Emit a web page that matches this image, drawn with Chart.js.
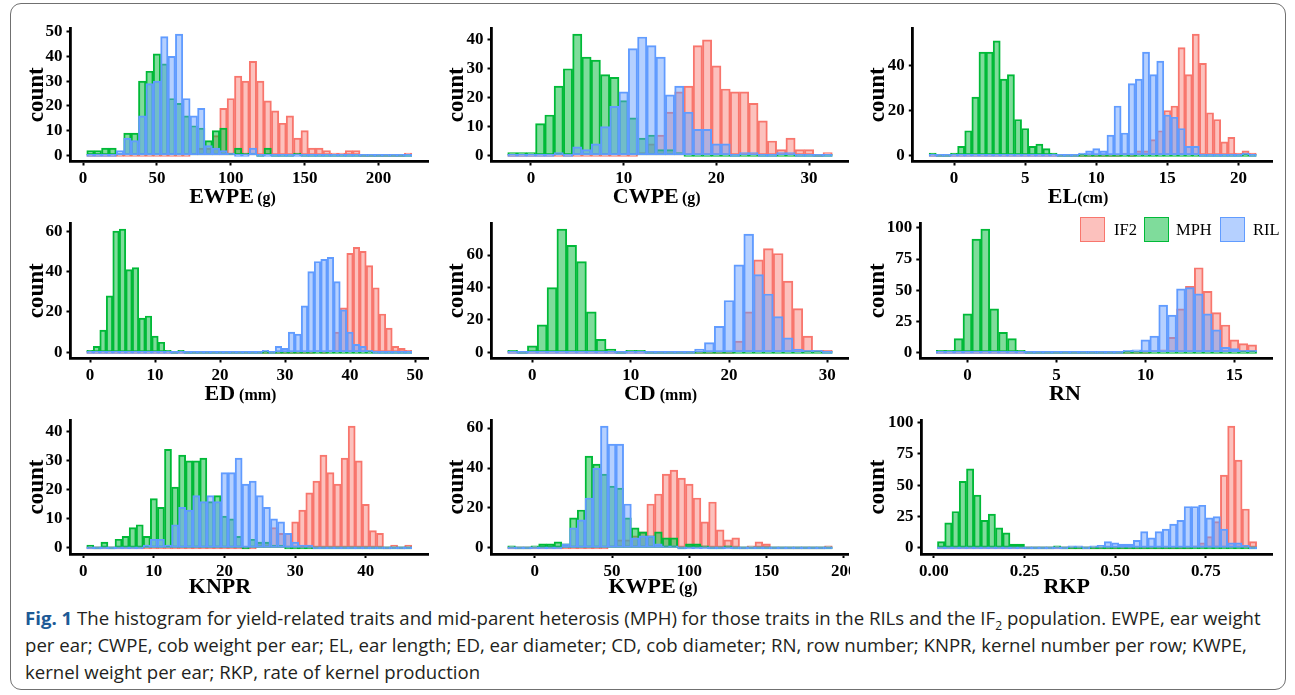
<!DOCTYPE html>
<html>
<head>
<meta charset="utf-8">
<title>Fig. 1</title>
<script src="https://cdn.jsdelivr.net/npm/chart.js@4.4.1/dist/chart.umd.min.js"></script>
<style>
    html, body { margin: 0; padding: 0; background: #fff; }
    #fig { position: relative; width: 1295px; height: 695px; overflow: hidden; }
    #fig canvas { position: absolute; }
    #frame { position: absolute; left: 10px; top: 3px; width: 1276px; height: 687px; box-sizing: border-box;
             border: 1.5px solid #707070; border-radius: 11px; }
    .key { position: absolute; top: 217px; width: 25px; height: 25px; box-sizing: border-box; border: 1.6px solid; }
    .keytext { position: absolute; top: 218px; font-family: "Liberation Serif", serif; font-size: 16.5px; line-height: 24px; color: #000; }
    #caption { position: absolute; left: 25px; top: 604px; font-family: "Open Sans", sans-serif;
               font-size: 18px; line-height: 27px; color: #231f20; white-space: nowrap; }
    #caption b { color: #1d5a96; }
    #caption sub { font-size: 65%; line-height: 0; }
</style>
</head>
<body>
<div id="fig">
    <div id="frame"></div>
    <div id="caption"><span id="capLine1"><b>Fig. 1</b> The histogram for yield-related traits and mid-parent heterosis (MPH) for those traits in the RILs and the IF<sub>2</sub> population. EWPE, ear weight</span><br>per ear; CWPE, cob weight per ear; EL, ear length; ED, ear diameter; CD, cob diameter; RN, row number; KNPR, kernel number per row; KWPE,<br>kernel weight per ear; RKP, rate of kernel production</div>
</div>
<script>
"use strict";

// ------------------------------------------------------- //
// Data: [first bin centre, bin width] and counts per bin
// ------------------------------------------------------ //
var groups = ["IF2", "MPH", "RIL"];

var ewpeBins = [5, 5];
var ewpeIF2 = [0,0,0,0,0,0,0,0,0,0, 0,0,0,0,1,3,3,8,19,23, 32,30,38,30,22,18,13,16,7,10, 3,3,2,1,1,2,2,0,0,0, 0,0,0,1];
var ewpeMPH = [2,2,3,3,1,9,9,30,34,41, 37,23,21,16,12,11,6,10,11,1, 3,1,1,0,3,0,0,0,1,0, 0,0,0,0,0,0,0,0,0,0, 0,0,0,0];
var ewpeRIL = [0,0,0,0,2,7,6,16,29,30, 48,40,49,23,16,19,4,3,2,1, 0,0,3,0,0,0,0,0,0,0, 0,0,0,0,0,0,0,0,0,0, 0,0,0,0];
var ewpeXTicks = ["0", "50", "100", "150", "200"];
var ewpeYTicks = [0, 10, 20, 30, 40, 50];
var ewpeTitle = ["EWPE", "\u2009(g)"];

var cwpeBins = [-2, 1];
var cwpeIF2 = [0,0,0,0,0,0,0,0,0,0, 0,0,0,0,1,4,7,15,22,24, 38,40,31,23,22,22,18,12,5,2, 6,2,2,0,1];
var cwpeMPH = [1,1,1,11,14,24,30,42,34,33, 28,27,19,13,6,7,2,2,1,0, 0,0,0,0,0,0,0,0,0,0, 0,0,0,0,0];
var cwpeRIL = [0,0,0,0,0,1,0,3,2,4, 10,17,22,37,41,38,34,21,24,15, 9,9,4,4,0,1,1,0,0,1, 1,0,0,0,0];
var cwpeXTicks = ["0", "10", "20", "30"];
var cwpeYTicks = [0, 10, 20, 30, 40];
var cwpeTitle = ["CWPE", "\u2009(g)"];

var elBins = [-1.5, 0.5];
var elIF2 = [0,0,0,0,0,0,0,0,0,0, 0,0,0,0,0,0,0,0,0,0, 0,0,0,0,0,0,0,1,0,2, 2,7,11,20,22,48,36,54,41,19, 16,6,8,1,2,1];
var elMPH = [1,0,0,1,4,11,26,46,46,51, 34,36,16,12,4,5,3,1,0,0, 0,0,0,0,0,0,0,0,0,0, 0,0,0,0,0,0,0,0,0,0, 0,0,0,0,0,0];
var elRIL = [0,0,0,0,0,0,0,0,0,0, 0,0,0,0,0,0,0,0,0,0, 0,1,2,3,2,9,22,10,32,34, 46,36,42,18,17,12,4,4,0,0, 0,0,0,0,1,0];
var elXTicks = ["0", "5", "10", "15", "20"];
var elYTicks = [0, 20, 40];
var elTitle = ["EL", "(cm)"];

var edBins = [0, 1];
var edIF2 = [0,0,0,0,0,0,0,0,0,0, 0,0,0,0,0,0,0,0,0,0, 0,0,0,0,0,0,0,0,0,0, 0,0,0,0,0,1,0,1,10,22, 49,52,50,43,32,19,12,3,2,1];
var edMPH = [1,3,11,28,60,61,41,42,17,18, 8,5,1,0,1,0,0,0,0,0, 0,0,0,0,0,0,0,0,0,0, 0,0,0,0,0,0,0,0,0,0, 0,0,0,0,0,0,0,0,0,0];
var edRIL = [0,0,0,0,0,0,0,0,0,0, 0,0,0,0,0,0,0,0,0,0, 0,0,0,0,0,0,0,1,0,3, 2,10,9,23,40,45,46,47,35,21, 10,4,3,1,0,0,0,0,0,0];
var edXTicks = ["0", "10", "20", "30", "40", "50"];
var edYTicks = [0, 20, 40, 60];
var edTitle = ["ED", " (mm)"];

var cdBins = [-2, 1];
var cdIF2 = [0,0,0,0,0,0,0,0,0,0, 0,0,0,0,0,0,0,0,0,0, 0,0,0,7,25,57,64,61,44,27, 10,1,1];
var cdMPH = [1,0,4,17,40,76,66,56,25,8, 2,0,1,1,0,0,0,0,0,0, 0,0,0,0,0,0,0,0,0,0, 0,0,0];
var cdRIL = [0,0,0,0,0,0,0,0,0,0, 0,0,0,0,0,0,0,0,0,2, 6,16,32,54,73,48,36,22,9,2, 1,1,0];
var cdXTicks = ["0", "10", "20", "30"];
var cdYTicks = [0, 20, 40, 60];
var cdTitle = ["CD", " (mm)"];

var rnBins = [-1.5, 0.5];
var rnIF2 = [0,0,0,0,0,0,0,0,0,0, 0,0,0,0,0,0,0,0,0,0, 0,0,0,0,1,2,12,35,53,68, 49,32,22,10,7,6];
var rnMPH = [1,1,11,31,91,99,35,16,11,1, 0,0,0,0,0,0,0,0,0,0, 0,0,0,0,0,0,0,0,0,0, 0,0,0,0,0,0];
var rnRIL = [0,0,0,0,0,0,0,0,0,0, 0,0,0,0,0,0,0,0,0,0, 0,1,2,10,13,38,30,51,52,47, 31,18,4,3,1,1];
var rnXTicks = ["0", "5", "10", "15"];
var rnYTicks = [0, 25, 50, 75, 100];
var rnTitle = ["RN", ""];

var knprBins = [1, 1];
var knprIF2 = [0,0,0,0,0,0,0,0,0,0, 0,0,0,0,0,0,0,0,0,0, 0,0,0,0,2,2,7,5,5,9, 13,19,23,32,26,22,31,42,30,15, 6,5,0,1,0,1];
var knprMPH = [1,0,2,0,3,4,7,8,4,17, 14,34,21,32,30,30,31,16,18,11, 10,4,0,3,2,2,1,1,0,0, 0,0,0,0,0,0,0,0,0,0, 0,0,0,0,0,0];
var knprRIL = [0,0,0,0,0,0,0,0,1,3, 3,1,8,14,13,18,16,18,16,26, 26,31,22,23,18,14,10,9,5,2, 1,1,0,0,0,0,0,0,0,0, 0,0,0,0,0,0];
var knprXTicks = ["0", "10", "20", "30", "40"];
var knprYTicks = [0, 10, 20, 30, 40];
var knprTitle = ["KNPR", ""];

var kwpeBins = [-15, 5];
var kwpeIF2 = [0,0,0,0,0,0,0,0,0,0, 0,0,0,1,4,4,6,8,22,27, 37,39,35,32,25,13,23,9,4,5, 0,1,3,2,0,0,0,0,0,0, 0,1];
var kwpeMPH = [1,0,0,1,2,2,3,2,15,19, 46,42,37,31,30,15,10,8,6,8, 5,5,0,2,2,1,0,0,1,0, 0,0,0,0,0,0,0,0,0,0, 0,0];
var kwpeRIL = [0,0,0,0,0,0,0,2,10,14, 25,40,61,52,52,22,5,6,6,2, 1,1,0,0,0,0,0,0,0,0, 0,0,0,0,0,0,0,0,0,0, 0,0];
var kwpeXTicks = ["0", "50", "100", "150", "200"];
var kwpeYTicks = [0, 20, 40, 60];
var kwpeTitle = ["KWPE", "\u2009(g)"];

var rkpBins = [0.02, 0.02];
var rkpIF2 = [0,0,0,0,0,0,0,0,0,0, 0,0,0,0,0,0,0,0,0,0, 0,0,0,0,0,0,0,0,0,0, 0,0,0,0,0,1,4,9,21,58, 97,70,31,5];
var rkpMPH = [5,20,29,53,63,42,22,27,16,12, 3,3,0,0,0,0,1,0,0,0, 0,0,0,0,0,0,0,0,0,0, 0,0,0,0,0,0,0,0,0,0, 0,0,0,0];
var rkpRIL = [0,0,0,0,0,0,0,0,0,0, 0,0,0,0,0,0,0,0,1,1, 0,1,2,5,4,3,3,6,13,8, 13,15,19,22,33,33,34,24,25,15, 4,4,2,0];
var rkpXTicks = ["0.00", "0.25", "0.50", "0.75"];
var rkpYTicks = [0, 25, 50, 75, 100];
var rkpTitle = ["RKP", ""];

// ------------------------------------------------------- //
// Styles
// ------------------------------------------------------ //
var lineColors = { IF2: "#F8766D", MPH: "#00BA38", RIL: "#619CFF" };
var fillColors = { IF2: "rgba(248,118,109,0.45)", MPH: "rgba(0,186,56,0.5)", RIL: "rgba(97,156,255,0.47)" };
var serif = "'Liberation Serif', 'Times New Roman', serif";

// canvas box [left, top, width, height], plot area [left, top, right, bottom]
var panels = [
    { data: [ewpeIF2, ewpeMPH, ewpeRIL], bins: ewpeBins, xTicks: ewpeXTicks, yTicks: ewpeYTicks, title: ewpeTitle,
      box: [18, 14, 414, 196], area: [70.5, 28, 428, 161.5], titleX: 232.5, titleDy: 41, countX: 37.3 },
    { data: [cwpeIF2, cwpeMPH, cwpeRIL], bins: cwpeBins, xTicks: cwpeXTicks, yTicks: cwpeYTicks, title: cwpeTitle,
      box: [440, 14, 410, 196], area: [491.5, 28, 848.5, 161.5], titleX: 656.7, titleDy: 41, countX: 457.3 },
    { data: [elIF2, elMPH, elRIL], bins: elBins, xTicks: elXTicks, yTicks: elYTicks, title: elTitle,
      box: [858, 14, 428, 196], area: [912.8, 28, 1272.6, 161.5], titleX: 1078, titleDy: 41, countX: 878.5 },
    { data: [edIF2, edMPH, edRIL], bins: edBins, xTicks: edXTicks, yTicks: edYTicks, title: edTitle,
      box: [18, 210, 414, 194], area: [70.5, 223, 428, 358.5], titleX: 240.5, titleDy: 41, countX: 37.3 },
    { data: [cdIF2, cdMPH, cdRIL], bins: cdBins, xTicks: cdXTicks, yTicks: cdYTicks, title: cdTitle,
      box: [440, 210, 410, 194], area: [491.5, 223, 848.5, 358.5], titleX: 660.5, titleDy: 41, countX: 457.3 },
    { data: [rnIF2, rnMPH, rnRIL], bins: rnBins, xTicks: rnXTicks, yTicks: rnYTicks, title: rnTitle,
      box: [858, 210, 428, 194], area: [920.3, 223, 1272.6, 358.5], titleX: 1065, titleDy: 41, countX: 878.5 },
    { data: [knprIF2, knprMPH, knprRIL], bins: knprBins, xTicks: knprXTicks, yTicks: knprYTicks, title: knprTitle,
      box: [18, 406, 414, 196], area: [70.5, 420, 428, 554], titleX: 220, titleDy: 39, countX: 37.3 },
    { data: [kwpeIF2, kwpeMPH, kwpeRIL], bins: kwpeBins, xTicks: kwpeXTicks, yTicks: kwpeYTicks, title: kwpeTitle,
      box: [440, 406, 410, 196], area: [491.5, 420, 848.5, 554], titleX: 653, titleDy: 39, countX: 457.3 },
    { data: [rkpIF2, rkpMPH, rkpRIL], bins: rkpBins, xTicks: rkpXTicks, yTicks: rkpYTicks, title: rkpTitle,
      box: [858, 406, 428, 196], area: [921.5, 420, 1272.6, 554], titleX: 1066.7, titleDy: 39, countX: 878.5 }
];

var legendKeyX = [1080, 1144, 1219.5];
var legendTextX = [1114, 1176, 1253];

// ------------------------------------------------------- //
// x axis title with a smaller unit part
// ------------------------------------------------------ //
var unitTitle = {
    id: "unitTitle",
    afterDraw: function (chart, args, opts) {
        var ctx = chart.ctx;
        var y = chart.chartArea.bottom + opts.dy;
        ctx.save();
        ctx.fillStyle = "#000";
        ctx.textAlign = "left";
        ctx.textBaseline = "alphabetic";
        ctx.font = "bold 22px " + serif;
        var w1 = ctx.measureText(opts.name).width;
        ctx.font = "bold 16px " + serif;
        var w2 = opts.unit ? ctx.measureText(opts.unit).width : 0;
        var x = opts.x - (w1 + w2) / 2;
        ctx.font = "bold 22px " + serif;
        ctx.fillText(opts.name, x, y);
        if (opts.unit) {
            ctx.font = "bold 16px " + serif;
            ctx.fillText(opts.unit, x + w1, y);
        }
        ctx.restore();
    }
};

function binCentres(bins, n) {
    var out = [];
    for (var i = 0; i < n; i++) {
        out.push(Math.round((bins[0] + i * bins[1]) * 1e6) / 1e6);
    }
    return out;
}

Chart.defaults.font.family = serif;

var fig = document.getElementById("fig");

panels.forEach(function (p) {
    var canvas = document.createElement("canvas");
    canvas.width = p.box[2];
    canvas.height = p.box[3];
    canvas.style.left = p.box[0] + "px";
    canvas.style.top = p.box[1] + "px";
    fig.appendChild(canvas);

    var centres = binCentres(p.bins, p.data[0].length);
    var w = p.bins[1];
    var lo = centres[0] - w / 2, hi = centres[centres.length - 1] + w / 2;
    var xPad = (hi - lo) * 0.05;
    var xMin = lo - xPad, xMax = hi + xPad;
    var yMaxData = Math.max.apply(null, p.data[0].concat(p.data[1], p.data[2]));
    var yPad = yMaxData * 0.05;
    // one bin in pixels on the x scale
    var binPx = (p.area[2] - p.area[0]) * w / (xMax - xMin);

    var datasets = groups.map(function (g, gi) {
        return {
            label: g,
            data: p.data[gi].map(function (v, i) { return { x: centres[i], y: v }; }),
            backgroundColor: fillColors[g],
            borderColor: lineColors[g],
            borderWidth: 1.3,
            borderSkipped: false,
            minBarLength: 2,
            barThickness: binPx,
            grouped: false,
            order: 2 - gi
        };
    });

    var axisBorder = { display: true, color: "#000", width: 2.8 };
    var axisGrid = { drawOnChartArea: false, drawTicks: true, tickLength: 4, tickColor: "#000", tickWidth: 2, offset: false };
    var tickFont = { family: serif, size: 17, weight: "bold" };

    new Chart(canvas, {
        type: "bar",
        data: { datasets: datasets },
        options: {
            responsive: false,
            animation: false,
            events: [],
            layout: {
                padding: { left: 0, bottom: 0, top: p.area[1] - p.box[1], right: p.box[0] + p.box[2] - p.area[2] }
            },
            plugins: {
                legend: { display: false },
                tooltip: { enabled: false },
                unitTitle: { name: p.title[0], unit: p.title[1], x: p.titleX - p.box[0], dy: p.titleDy }
            },
            scales: {
                x: {
                    type: "linear",
                    offset: false,
                    min: xMin,
                    max: xMax,
                    afterBuildTicks: function (axis) {
                        axis.ticks = p.xTicks.map(function (t) { return { value: parseFloat(t) }; });
                    },
                    afterFit: function (axis) {
                        axis.height = p.box[1] + p.box[3] - p.area[3];
                        axis.paddingLeft = 0;
                        axis.paddingRight = 0;
                    },
                    ticks: {
                        autoSkip: false, maxRotation: 0, minRotation: 0, padding: 3,
                        color: "#000", font: tickFont,
                        callback: function (v, i) { return p.xTicks[i]; }
                    },
                    grid: axisGrid,
                    border: axisBorder
                },
                y: {
                    type: "linear",
                    min: -yPad,
                    max: yMaxData + yPad,
                    afterBuildTicks: function (axis) {
                        axis.ticks = p.yTicks.map(function (t) { return { value: t }; });
                    },
                    afterFit: function (axis) {
                        axis.width = p.area[0] - p.box[0];
                        axis.paddingTop = 0;
                        axis.paddingBottom = 0;
                    },
                    ticks: {
                        autoSkip: false, padding: 4, color: "#000", font: tickFont,
                        callback: function (v) { return String(v); }
                    },
                    title: {
                        display: true,
                        text: "count",
                        color: "#000",
                        font: { family: serif, size: 23, weight: "bold", lineHeight: 1.2 },
                        padding: { top: p.countX - p.box[0] - 23 * 1.2 / 2, bottom: 0 }
                    },
                    grid: axisGrid,
                    border: axisBorder
                }
            }
        },
        plugins: [unitTitle]
    });
});

// ------------------------------------------------------- //
// Legend (inside the RN panel) and caption width
// ------------------------------------------------------ //
groups.forEach(function (g, i) {
    var key = document.createElement("div");
    key.className = "key";
    key.style.left = legendKeyX[i] + "px";
    key.style.background = fillColors[g];
    key.style.borderColor = lineColors[g];
    fig.appendChild(key);
    var txt = document.createElement("div");
    txt.className = "keytext";
    txt.style.left = legendTextX[i] + "px";
    txt.textContent = g;
    fig.appendChild(txt);
});

var caption = document.getElementById("caption");
var firstLine = document.getElementById("capLine1").getBoundingClientRect().width;
caption.style.fontSize = (18 * 1237 / firstLine).toFixed(2) + "px";
</script>
</body>
</html>
